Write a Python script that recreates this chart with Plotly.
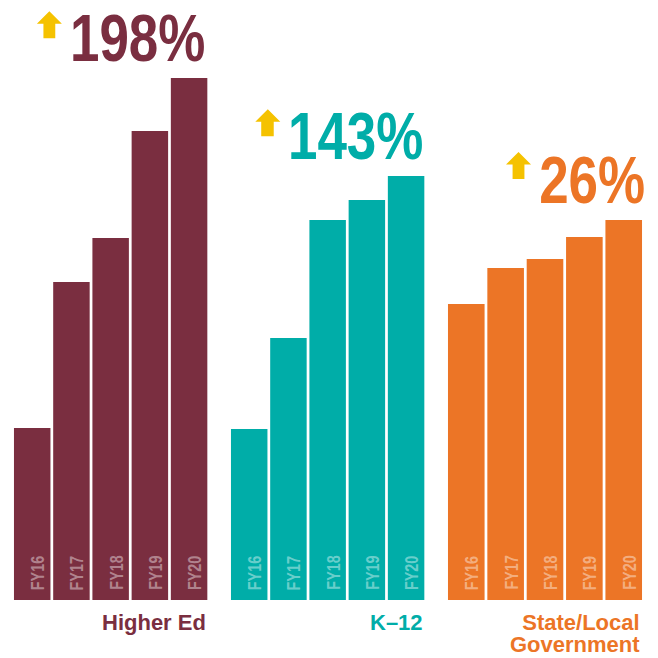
import plotly.graph_objects as go

categories = ["FY16", "FY17", "FY18", "FY19", "FY20"]
higher_ed = [172, 318, 362, 469, 522]
k12 = [171, 262, 380, 400, 424]
state_local = [296, 332, 341, 363, 380]
group_names = ["Higher Ed", "K\u201312", "State/Local<br>Government"]
growth_labels = ["198%", "143%", "26%"]

colors = ["#7a2e40", "#00ada8", "#ec7526"]
arrow_color = "#f5c200"
W = 658
H = 658
domains_px = [(12.6, 208.7), (229.6, 425.7), (446.6, 643.4)]
growth_xshift = [-3, -2, 3]
COND = "Liberation Sans Narrow, Arial Narrow, Liberation Sans, Arial"

fig = go.Figure()
series = [higher_ed, k12, state_local]
axes = ["x", "x2", "x3"]
for i, vals in enumerate(series):
    fig.add_trace(go.Bar(
        x=categories, y=vals, xaxis=axes[i], yaxis="y",
        marker=dict(color=colors[i], line=dict(width=0)),
        hoverinfo="skip", showlegend=False,
    ))
    for c in categories:
        fig.add_annotation(
            x=c, y=0, xref=axes[i], yref="y", text="<b>%s</b>" % c,
            textangle=-90, showarrow=False, xanchor="center", yanchor="bottom",
            xshift=5.5, yshift=8, name="cond-start",
            font=dict(family=COND, size=18, color="rgba(255,255,255,0.42)"),
        )
    fig.add_annotation(
        x=1.0, xref=axes[i] + " domain", y=max(vals), yref="y",
        text="<b>%s</b>" % growth_labels[i], showarrow=False, borderpad=0,
        xanchor="right", yanchor="bottom", xshift=growth_xshift[i], yshift=2,
        name="cond-end",
        font=dict(family=COND, size=67, color=colors[i]),
    )
    fig.add_annotation(
        x=1.0, xref=axes[i] + " domain", y=0, yref="y",
        text="<b>%s</b>" % group_names[i], showarrow=False, align="right",
        xanchor="right", yanchor="top", xshift=-1, yshift=-8, name="tight",
        font=dict(family="Liberation Sans, Arial", size=22, color=colors[i]),
    )

layout_axes = {}
for i, (a, b) in enumerate(domains_px):
    key = "xaxis" if i == 0 else "xaxis%d" % (i + 1)
    layout_axes[key] = dict(domain=[a / W, b / W], visible=False, anchor="y",
                            type="category", fixedrange=True)

fig.update_layout(
    width=W, height=H,
    margin=dict(l=0, r=0, t=0, b=0),
    paper_bgcolor="white", plot_bgcolor="white",
    bargap=0.07,
    yaxis=dict(domain=[58 / H, 1], range=[0, 600], visible=False, fixedrange=True),
    **layout_axes,
)

arrow_px = [(37, 11), (255, 109), (506, 152)]
for (ax, ay) in arrow_px:
    pts = [(ax, ay + 12.5), (ax + 12.5, ay), (ax + 25, ay + 12.5), (ax + 18.5, ay + 12.5),
           (ax + 18.5, ay + 27), (ax + 6.5, ay + 27), (ax + 6.5, ay + 12.5)]
    path = "M " + " L ".join("%.3f,%.3f" % (px / W, 1 - py / H) for px, py in pts) + " Z"
    fig.add_shape(type="path", path=path, xref="paper", yref="paper",
                  fillcolor=arrow_color, line=dict(width=0))

post = """
document.body.style.margin = '0';
document.body.style.padding = '0';
var gd = document.getElementById('{plot_id}');
var anns = gd.layout.annotations;
var groups = gd.querySelectorAll('g.annotation');
groups.forEach(function(g){
  var idx = parseInt(g.getAttribute('data-index'));
  var a = anns[idx];
  if (!a || !a.name) return;
  var t = g.querySelector('text.annotation-text');
  if (!t) return;
  if (a.name === 'tight') {
    var ls = t.querySelectorAll('tspan.line');
    for (var k = 1; k < ls.length; k++) { ls[k].setAttribute('dy', (k * 1.0) + 'em'); }
    return;
  }
  if (a.name.indexOf('cond') !== 0) return;
  var bb = t.getBBox();
  var s = a.name === 'cond-end' ? 0.79 : 0.80;
  var ox = a.name === 'cond-end' ? bb.x + bb.width : bb.x;
  t.setAttribute('transform', 'translate(' + ox + ',0) scale(' + s + ',1) translate(' + (-ox) + ',0)');
});
"""

fig.write_html("out.html", post_script=post, config={"displayModeBar": False})
